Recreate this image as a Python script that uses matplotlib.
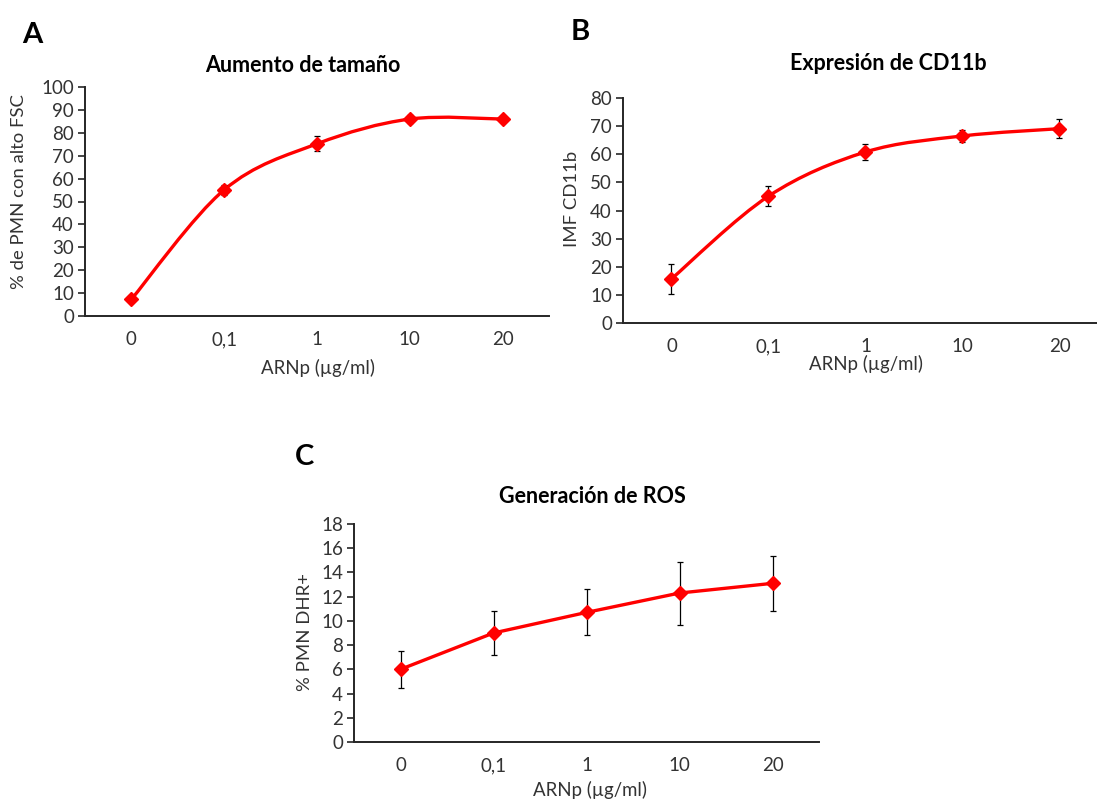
import matplotlib
matplotlib.use("Agg")
import matplotlib.pyplot as plt
from matplotlib.path import Path
from matplotlib.patches import PathPatch

plt.rcParams['font.family'] = ['Lato', 'DejaVu Sans']

W, H = 1097, 801

categories = ['0', '0,1', '1', '10', '20']
xlabel = 'ARNp (µg/ml)'

# panel A
size_vals = [7.3, 55.1, 75.2, 86.0, 86.0]
size_err = [1.0, 2.3, 3.2, 1.6, 1.0]

# panel B
cd11b_vals = [15.7, 45.1, 60.8, 66.5, 69.1]
cd11b_err = [5.3, 3.5, 2.7, 2.1, 3.4]

# panel C
ros_vals = [6.0, 9.0, 10.7, 12.3, 13.1]
ros_err = [1.5, 1.8, 1.9, 2.6, 2.25]

RED = '#ff0000'
TXT = '#333333'


def smooth_path(xs, ys):
    # Excel style smoothed line: cubic bezier through every point
    pts = list(zip(xs, ys))
    n = len(pts)
    verts = [pts[0]]
    codes = [Path.MOVETO]
    for i in range(n - 1):
        p0 = pts[i - 1] if i > 0 else pts[i]
        p1 = pts[i]
        p2 = pts[i + 1]
        p3 = pts[i + 2] if i + 2 < n else pts[i + 1]
        c1 = (p1[0] + (p2[0] - p0[0]) / 6, p1[1] + (p2[1] - p0[1]) / 6)
        c2 = (p2[0] - (p3[0] - p1[0]) / 6, p2[1] - (p3[1] - p1[1]) / 6)
        verts += [c1, c2, p2]
        codes += [Path.CURVE4] * 3
    return Path(verts, codes)


def box(l, r, t, b):
    return [l / W, 1 - b / H, (r - l) / W, (b - t) / H]


def panel(fig, rect, vals, errs, ymax, ystep, smooth, title, tpos, ylab, ypos, xpos, letter, lpos):
    ax = fig.add_axes(rect)
    x = list(range(len(vals)))
    if smooth:
        ax.add_patch(PathPatch(smooth_path(x, vals), fill=False, edgecolor=RED, lw=2.4, zorder=2))
    else:
        ax.plot(x, vals, color=RED, lw=2.4, zorder=2)
    ax.errorbar(x, vals, yerr=errs, fmt='none', ecolor='black', elinewidth=0.9, capsize=2.5, capthick=0.9, zorder=3)
    ax.plot(x, vals, 'D', color=RED, ms=7.5, zorder=4)
    ax.set_xlim(-0.5, len(vals) - 0.5)
    ax.set_ylim(0, ymax)
    ax.set_yticks(range(0, ymax + 1, ystep))
    ax.set_xticks(x)
    ax.set_xticklabels(categories)
    for s in ['top', 'right']:
        ax.spines[s].set_visible(False)
    for s in ['left', 'bottom']:
        ax.spines[s].set_color('#262626')
        ax.spines[s].set_linewidth(1.4)
    ax.tick_params(axis='x', length=0, pad=11, labelsize=13.5, labelcolor=TXT)
    ax.tick_params(axis='y', length=5, width=1.2, color='#262626', pad=3, labelsize=13.5, labelcolor=TXT)
    ax.spines['left'].set_zorder(5)
    fig.text(tpos[0] / W, 1 - tpos[1] / H, title, ha='center', va='center', fontsize=15.5, fontweight='bold', color='black')
    fig.text(ypos[0] / W, 1 - ypos[1] / H, ylab, ha='center', va='center', rotation=90, fontsize=13.3, color=TXT)
    fig.text(xpos[0] / W, 1 - xpos[1] / H, xlabel, ha='center', va='center', fontsize=13.4, color=TXT)
    fig.text(lpos[0] / W, 1 - lpos[1] / H, letter, ha='center', va='center', fontsize=21, fontweight='bold', color='black')
    return ax


fig = plt.figure(figsize=(W / 100, H / 100), dpi=100)

panel(fig, box(85, 549, 87, 316), size_vals, size_err, 100, 10, True,
      'Aumento de tamaño', (303, 66), '% de PMN con alto FSC', (19, 192), (318, 368), 'A', (32, 35))
panel(fig, box(623, 1108, 98, 323), cd11b_vals, cd11b_err, 80, 10, True,
      'Expresión de CD11b', (888, 63), 'IMF CD11b', (572, 199), (866, 364), 'B', (580, 32))
panel(fig, box(354, 819, 524, 742), ros_vals, ros_err, 18, 2, False,
      'Generación de ROS', (592, 497), '% PMN DHR+', (305, 632), (590, 790), 'C', (305, 457))

fig.savefig('out.png', dpi=100)
